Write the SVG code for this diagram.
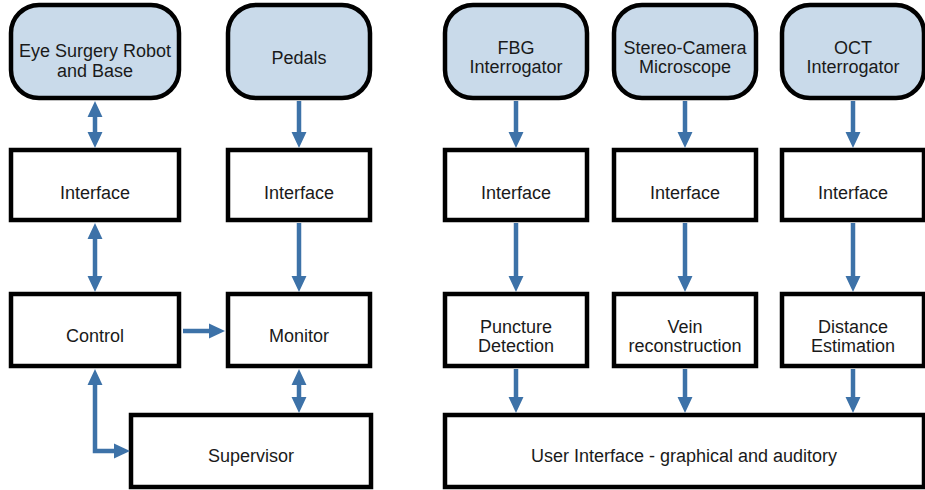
<svg xmlns="http://www.w3.org/2000/svg" width="925" height="490" viewBox="0 0 925 490">
  <style>
    .src { fill: #c9daea; stroke: #000; stroke-width: 4.5; }
    .blk { fill: #fff; stroke: #000; stroke-width: 4.5; }
    .lbl { font-family: "Liberation Sans", Arial, sans-serif; font-size: 18px; fill: #1a1a1a; text-anchor: middle; }
    .wire { fill: none; stroke: #3d72a8; stroke-width: 4.5; }
  </style>
  <defs>
    <marker id="head" markerUnits="userSpaceOnUse" markerWidth="16" markerHeight="16" viewBox="0 0 15 14" refX="0" refY="7" orient="auto-start-reverse">
      <path d="M0,0 L15,7 L0,14 z" fill="#3d72a8"/>
    </marker>
  </defs>

  <rect width="925" height="490" fill="#fff"/>

  <!-- sources -->
  <g id="robot"><rect class="src" x="11" y="5" width="168" height="93" rx="28"/><text class="lbl" x="95" y="57">Eye Surgery Robot</text><text class="lbl" x="95" y="77">and Base</text></g>
  <g id="pedals"><rect class="src" x="228" y="5" width="142" height="93" rx="28"/><text class="lbl" x="299" y="64">Pedals</text></g>
  <g id="fbg"><rect class="src" x="445" y="5" width="142" height="93" rx="28"/><text class="lbl" x="516" y="54">FBG</text><text class="lbl" x="516" y="73">Interrogator</text></g>
  <g id="camera"><rect class="src" x="614" y="5" width="142" height="93" rx="28"/><text class="lbl" x="685" y="54">Stereo-Camera</text><text class="lbl" x="685" y="73">Microscope</text></g>
  <g id="oct"><rect class="src" x="782" y="5" width="142" height="93" rx="28"/><text class="lbl" x="853" y="54">OCT</text><text class="lbl" x="853" y="73">Interrogator</text></g>

  <!-- interfaces -->
  <g id="if-robot"><rect class="blk" x="11" y="150" width="168" height="70"/><text class="lbl" x="95" y="199">Interface</text></g>
  <g id="if-pedals"><rect class="blk" x="228" y="150" width="142" height="70"/><text class="lbl" x="299" y="199">Interface</text></g>
  <g id="if-fbg"><rect class="blk" x="445" y="150" width="142" height="70"/><text class="lbl" x="516" y="199">Interface</text></g>
  <g id="if-camera"><rect class="blk" x="614" y="150" width="142" height="70"/><text class="lbl" x="685" y="199">Interface</text></g>
  <g id="if-oct"><rect class="blk" x="782" y="150" width="142" height="70"/><text class="lbl" x="853" y="199">Interface</text></g>

  <!-- processing -->
  <g id="control"><rect class="blk" x="11" y="294" width="168" height="72"/><text class="lbl" x="95" y="342">Control</text></g>
  <g id="monitor"><rect class="blk" x="228" y="294" width="142" height="72"/><text class="lbl" x="299" y="342">Monitor</text></g>
  <g id="puncture"><rect class="blk" x="445" y="294" width="142" height="72"/><text class="lbl" x="516" y="333">Puncture</text><text class="lbl" x="516" y="352">Detection</text></g>
  <g id="vein"><rect class="blk" x="614" y="294" width="142" height="72"/><text class="lbl" x="685" y="333">Vein</text><text class="lbl" x="685" y="352">reconstruction</text></g>
  <g id="distance"><rect class="blk" x="782" y="294" width="142" height="72"/><text class="lbl" x="853" y="333">Distance</text><text class="lbl" x="853" y="352">Estimation</text></g>

  <!-- outputs -->
  <g id="supervisor"><rect class="blk" x="131" y="415" width="240" height="72"/><text class="lbl" x="251" y="462">Supervisor</text></g>
  <g id="ui"><rect class="blk" x="445" y="415" width="479" height="72"/><text class="lbl" x="684" y="462">User Interface - graphical and auditory</text></g>

  <!-- connectors -->
  <g id="connectors">
    <path class="wire" d="M95,117 V132" marker-start="url(#head)" marker-end="url(#head)"/>
    <path class="wire" d="M299,101 V132" marker-end="url(#head)"/>
    <path class="wire" d="M95,239 V276" marker-start="url(#head)" marker-end="url(#head)"/>
    <path class="wire" d="M299,223 V276" marker-end="url(#head)"/>
    <path class="wire" d="M183,331 H209" marker-end="url(#head)"/>
    <path class="wire" d="M299,385 V397" marker-start="url(#head)" marker-end="url(#head)"/>
    <path class="wire" d="M95,385 V451 H114" marker-start="url(#head)" marker-end="url(#head)"/>

    <path class="wire" d="M516,101 V132" marker-end="url(#head)"/>
    <path class="wire" d="M685,101 V132" marker-end="url(#head)"/>
    <path class="wire" d="M853,101 V132" marker-end="url(#head)"/>
    <path class="wire" d="M516,223 V276" marker-end="url(#head)"/>
    <path class="wire" d="M685,223 V276" marker-end="url(#head)"/>
    <path class="wire" d="M853,223 V276" marker-end="url(#head)"/>
    <path class="wire" d="M516,369 V397" marker-end="url(#head)"/>
    <path class="wire" d="M685,369 V397" marker-end="url(#head)"/>
    <path class="wire" d="M853,369 V397" marker-end="url(#head)"/>
  </g>
</svg>
